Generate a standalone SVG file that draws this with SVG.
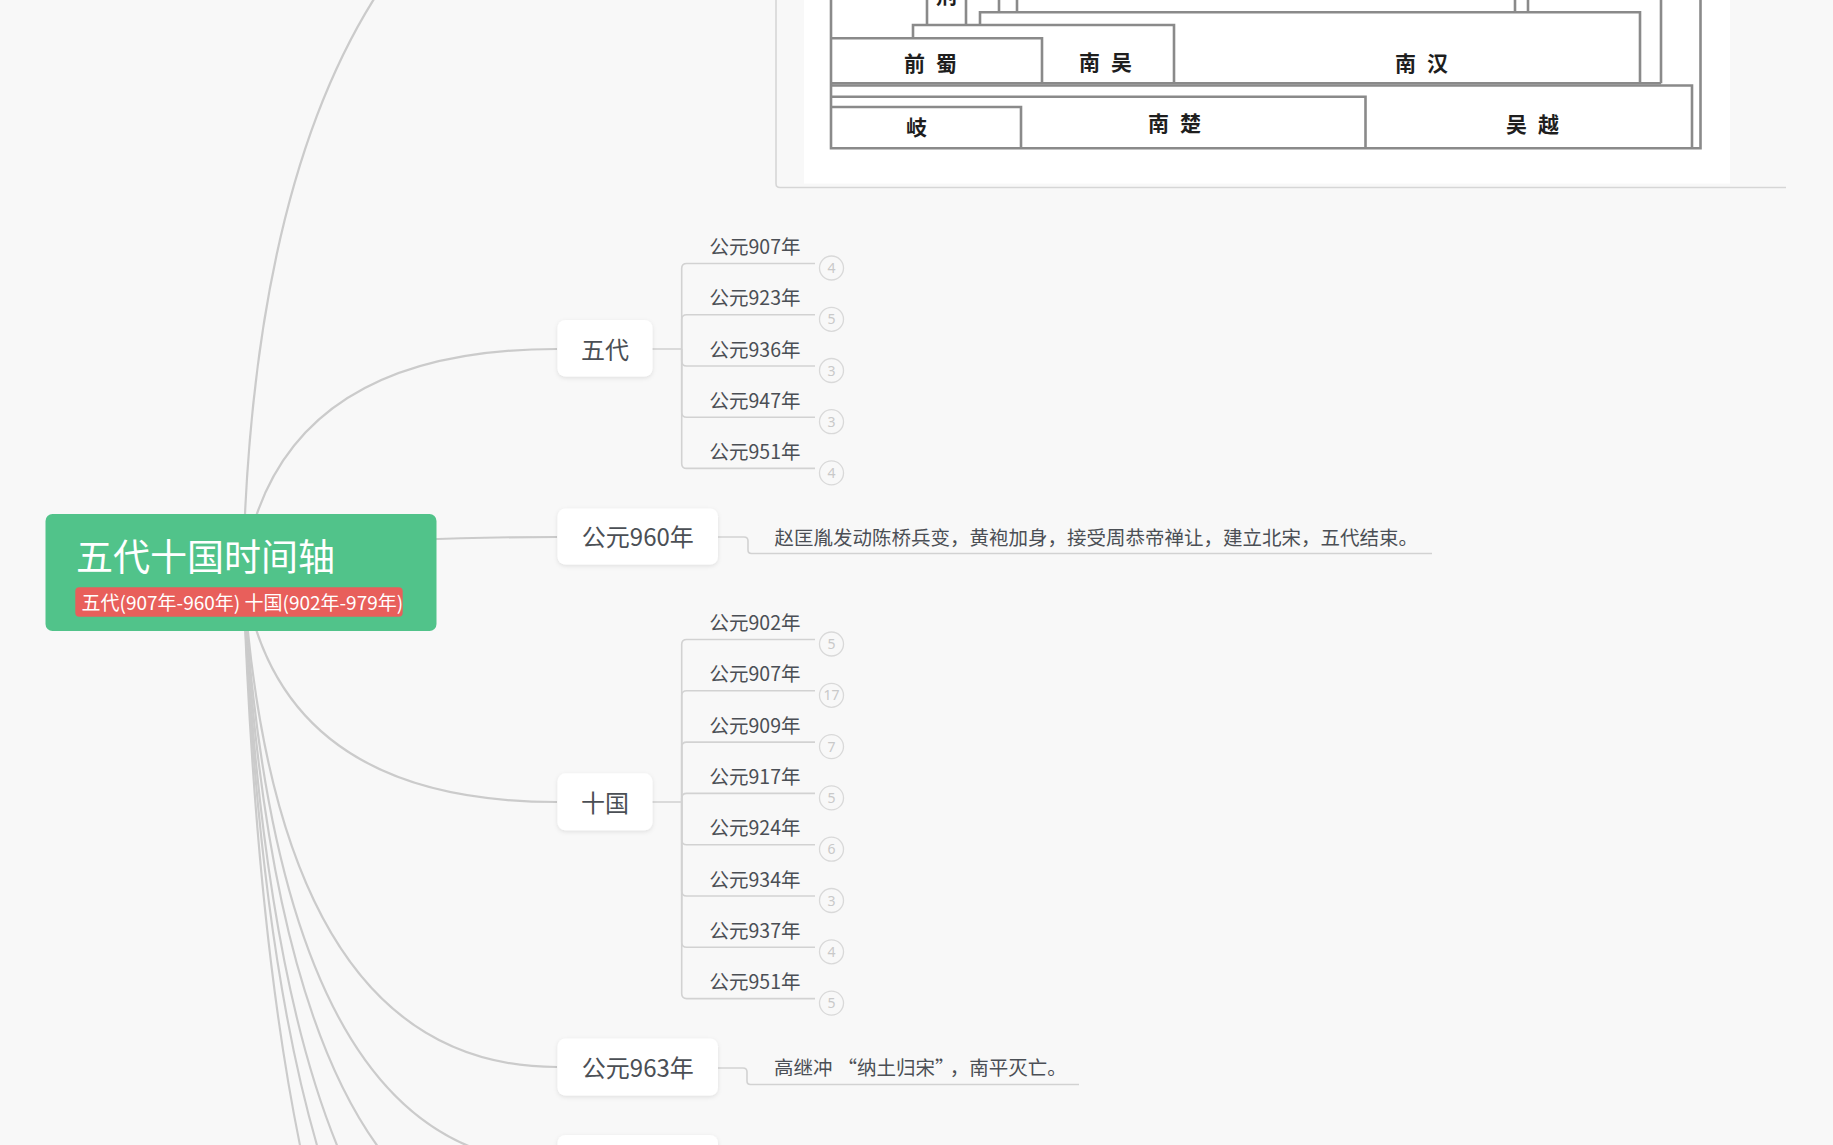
<svg xmlns="http://www.w3.org/2000/svg" width="1833" height="1145" viewBox="0 0 1833 1145">
<style>
.bg{fill:#f8f8f8}
.main{fill:none;stroke:#cbcbcb;stroke-width:2.2}
.leafc{fill:none;stroke:#d2d2d2;stroke-width:1.6}
.box{fill:#ffffff;filter:url(#sh)}
.bt{font-family:"Noto Sans CJK SC","Noto Sans",sans-serif;font-size:24px;fill:#4b4f55;text-anchor:middle}
.lt{font-family:"Noto Sans CJK SC","Noto Sans",sans-serif;font-size:19.5px;fill:#4b4f55;text-anchor:middle}
.dt{font-family:"Noto Sans CJK SC","Noto Sans",sans-serif;font-size:19.5px;fill:#4b4f55}
.badge{fill:#f8f8f8;stroke:#d9d9d9;stroke-width:1.3}
.bn{font-family:"Noto Sans","Noto Sans CJK SC",sans-serif;font-size:14px;fill:#c9c9c9;text-anchor:middle}
.il{fill:none;stroke:#8a8a8a;stroke-width:2.6}
.it{font-family:"Noto Sans CJK SC",sans-serif;font-size:21px;font-weight:700;fill:#1e1e1e;letter-spacing:11px}
</style>
<defs>
<filter id="sh" x="-10%" y="-20%" width="120%" height="150%">
<feDropShadow dx="0" dy="1.5" stdDeviation="2" flood-color="#000" flood-opacity="0.10"/>
</filter>
</defs>
<rect class="bg" x="0" y="0" width="1833" height="1145"/>

<g id="connectors">
<path class="main" d="M243,572 Q260,-214 776,-214"/>
<path class="main" d="M243,572 Q275,349 557,349"/>
<path class="main" d="M243,572 Q275,537 557,537"/>
<path class="main" d="M243,572 Q275,802 557,802"/>
<path class="main" d="M243,572 Q275,1067 557,1067"/>
<path class="main" d="M243,572 Q275,1163 557,1163"/>
<path class="main" d="M243,572 Q275,1245 557,1245"/>
<path class="main" d="M243,572 Q275,1338 557,1338"/>
<path class="main" d="M243,572 Q275,1420 557,1420"/>
<path class="main" d="M243,572 Q275,1530 557,1530"/>
<path class="leafc" d="M652,349 H681.7"/>
<path class="leafc" d="M681.7,349 V268.5 Q681.7,263.5 686.7,263.5 H815"/>
<path class="leafc" d="M681.7,349 V319.8 Q681.7,314.8 686.7,314.8 H815"/>
<path class="leafc" d="M681.7,349 V361 Q681.7,366 686.7,366 H815"/>
<path class="leafc" d="M681.7,349 V412.2 Q681.7,417.2 686.7,417.2 H815"/>
<path class="leafc" d="M681.7,349 V463.4 Q681.7,468.4 686.7,468.4 H815"/>
<path class="leafc" d="M652,802 H681.7"/>
<path class="leafc" d="M681.7,802 V644.5 Q681.7,639.5 686.7,639.5 H815"/>
<path class="leafc" d="M681.7,802 V695.8 Q681.7,690.8 686.7,690.8 H815"/>
<path class="leafc" d="M681.7,802 V747.1 Q681.7,742.1 686.7,742.1 H815"/>
<path class="leafc" d="M681.7,802 V798.4 Q681.7,793.4 686.7,793.4 H815"/>
<path class="leafc" d="M681.7,802 V839.7 Q681.7,844.7 686.7,844.7 H815"/>
<path class="leafc" d="M681.7,802 V891 Q681.7,896 686.7,896 H815"/>
<path class="leafc" d="M681.7,802 V942.3 Q681.7,947.3 686.7,947.3 H815"/>
<path class="leafc" d="M681.7,802 V993.6 Q681.7,998.6 686.7,998.6 H815"/>
<path class="leafc" d="M718,537 H744 Q748,537 748,541 V550 Q748,553.5 751.5,553.5 H1432"/>
<path class="leafc" d="M718,1068 H743 Q747,1068 747,1072 V1081 Q747,1084.5 750.5,1084.5 H1079"/>
</g>

<g id="image-node">
<path d="M776,0 V183.5 Q776,187.5 780,187.5 H1786" fill="none" stroke="#d6d6d6" stroke-width="1.6"/>
<rect x="804" y="-10" width="926" height="193.5" fill="#ffffff"/>
<path class="il" d="M831,0 V148.3 H1700.5 V0"/>
<path class="il" d="M927,0 V24 M966,0 V24"/>
<path class="il" d="M980,25 V12.3 H1640 V83.3"/>
<path class="il" d="M999,0 V12.3 M1017,0 V12.3 M1515,0 V12.3 M1528,0 V12.3"/>
<path class="il" d="M1661,0 V83.3"/>
<path class="il" d="M913,38.3 V25 H1174 V83.3"/>
<path class="il" d="M831,38.3 H1042 V83.3"/>
<path class="il" d="M831,83.3 H1661"/>
<path class="il" d="M831,85.5 H1692 V148.3"/>
<path class="il" d="M831,96.7 H1365.5 V148.3"/>
<path class="il" d="M831,107 H1021 V148.3"/>
<text class="it" x="936" y="3">荆</text>
<text class="it" x="904" y="70.5">前蜀</text>
<text class="it" x="1079" y="70">南吴</text>
<text class="it" x="1395" y="70.5">南汉</text>
<text class="it" x="906" y="135">岐</text>
<text class="it" x="1148" y="130.5">南楚</text>
<text class="it" x="1506" y="131.5">吴越</text>
</g>

<g id="root">
<rect x="45.5" y="514" width="391" height="117" rx="7" fill="#51c38a"/>
<text x="76" y="571" font-family="'Noto Sans CJK SC','Noto Sans',sans-serif" font-size="37" fill="#ffffff">五代十国时间轴</text>
<rect x="75.3" y="587.3" width="327.4" height="29.4" rx="4" fill="#e85f5b"/>
<text x="81.5" y="609.5" font-family="'Noto Sans CJK SC','Noto Sans',sans-serif" font-size="19" fill="#ffffff">五代(907年-960年) 十国(902年-979年)</text>
</g>

<g id="node-wudai">
<rect class="box" x="557.5" y="320" width="95" height="56.5" rx="8"/>
<text class="bt" x="605" y="358.5">五代</text>
</g>
<g id="wudai-leaves">
<text class="lt" x="755" y="254">公元907年</text>
<circle class="badge" cx="831.5" cy="268" r="12"/><text class="bn" x="831.5" y="273">4</text>
<text class="lt" x="755" y="305.3">公元923年</text>
<circle class="badge" cx="831.5" cy="319.3" r="12"/><text class="bn" x="831.5" y="324.3">5</text>
<text class="lt" x="755" y="356.5">公元936年</text>
<circle class="badge" cx="831.5" cy="370.5" r="12"/><text class="bn" x="831.5" y="375.5">3</text>
<text class="lt" x="755" y="407.7">公元947年</text>
<circle class="badge" cx="831.5" cy="421.7" r="12"/><text class="bn" x="831.5" y="426.7">3</text>
<text class="lt" x="755" y="458.9">公元951年</text>
<circle class="badge" cx="831.5" cy="472.9" r="12"/><text class="bn" x="831.5" y="477.9">4</text>
</g>

<g id="node-960">
<rect class="box" x="557.5" y="508.5" width="160.5" height="56" rx="8"/>
<text class="bt" x="637.8" y="546">公元960年</text>
<text class="dt" x="774.5" y="545">赵匡胤发动陈桥兵变，黄袍加身，接受周恭帝禅让，建立北宋，五代结束。</text>
</g>

<g id="node-shiguo">
<rect class="box" x="557.5" y="773.3" width="95" height="57" rx="8"/>
<text class="bt" x="605" y="812">十国</text>
</g>
<g id="shiguo-leaves">
<text class="lt" x="755" y="630">公元902年</text>
<circle class="badge" cx="831.5" cy="644" r="12"/><text class="bn" x="831.5" y="649">5</text>
<text class="lt" x="755" y="681.3">公元907年</text>
<circle class="badge" cx="831.5" cy="695.3" r="12"/><text class="bn" x="831.5" y="700.3">17</text>
<text class="lt" x="755" y="732.6">公元909年</text>
<circle class="badge" cx="831.5" cy="746.6" r="12"/><text class="bn" x="831.5" y="751.6">7</text>
<text class="lt" x="755" y="783.9">公元917年</text>
<circle class="badge" cx="831.5" cy="797.9" r="12"/><text class="bn" x="831.5" y="802.9">5</text>
<text class="lt" x="755" y="835.2">公元924年</text>
<circle class="badge" cx="831.5" cy="849.2" r="12"/><text class="bn" x="831.5" y="854.2">6</text>
<text class="lt" x="755" y="886.5">公元934年</text>
<circle class="badge" cx="831.5" cy="900.5" r="12"/><text class="bn" x="831.5" y="905.5">3</text>
<text class="lt" x="755" y="937.8">公元937年</text>
<circle class="badge" cx="831.5" cy="951.8" r="12"/><text class="bn" x="831.5" y="956.8">4</text>
<text class="lt" x="755" y="989.1">公元951年</text>
<circle class="badge" cx="831.5" cy="1003.1" r="12"/><text class="bn" x="831.5" y="1008.1">5</text>
</g>

<g id="node-963">
<rect class="box" x="557.5" y="1038.5" width="160.5" height="57" rx="8"/>
<text class="bt" x="637.8" y="1077">公元963年</text>
<text class="dt" x="774" y="1075">高继冲<tspan dx="5">“</tspan>纳土归宋”<tspan dx="5">，</tspan>南平灭亡。</text>
</g>

<g id="node-next">
<rect class="box" x="557.5" y="1135" width="160.5" height="57" rx="8"/>
</g>
</svg>
